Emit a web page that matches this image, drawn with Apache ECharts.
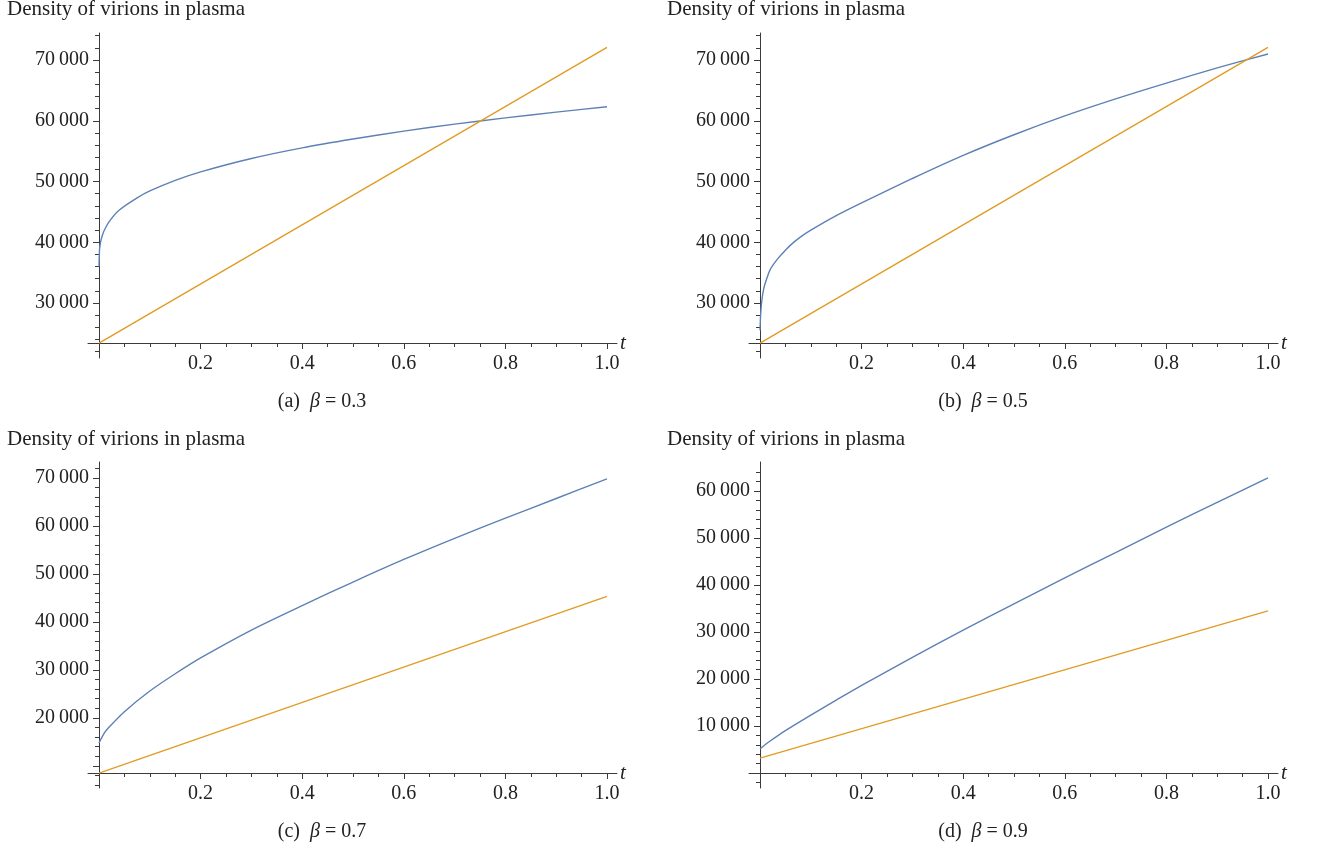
<!DOCTYPE html>
<html><head><meta charset="utf-8">
<script src="https://cdn.jsdelivr.net/npm/echarts@6/dist/echarts.min.js"></script>
<style>html,body{margin:0;padding:0;background:#fff}#c{width:1319px;height:854px}</style>
</head><body><div id="c"></div>
<script>
// ---------- text ----------
const panelTitle = 'Density of virions in plasma';
const panelLetters = ['a', 'b', 'c', 'd'];
const betaValues = ['0.3', '0.5', '0.7', '0.9'];
const xName = 't';

// ---------- data ----------
const tBlueA = [0, 0.001, 0.003, 0.006, 0.01, 0.02, 0.04, 0.075, 0.1, 0.15, 0.2, 0.3, 0.4, 0.5, 0.6, 0.7, 0.8, 0.9, 1.0];
const blueA  = [36000, 38800, 40000, 41000, 41900, 43400, 45300, 47300, 48450, 50200, 51600, 53800, 55550, 57000, 58300, 59450, 60480, 61420, 62300];
const tOrangeA = [0, 1.0];
const orangeA  = [23400, 72100];

const tBlueB = [0, 0.001, 0.003, 0.006, 0.01, 0.02, 0.035, 0.05, 0.065, 0.08, 0.1, 0.15, 0.2, 0.3, 0.4, 0.5, 0.6, 0.7, 0.8, 0.9, 1.0];
const blueB  = [25500, 27800, 30000, 31800, 33200, 35500, 37300, 38700, 39900, 40900, 42000, 44400, 46500, 50500, 54300, 57700, 60800, 63600, 66200, 68700, 71000];
const tOrangeB = [0, 1.0];
const orangeB  = [23400, 72100];

const tBlueC = [0, 0.01, 0.02, 0.05, 0.1, 0.15, 0.2, 0.3, 0.4, 0.5, 0.6, 0.7, 0.8, 0.9, 1.0];
const blueC  = [14800, 16800, 18100, 21300, 25600, 29200, 32500, 38300, 43400, 48300, 53000, 57400, 61600, 65700, 69800];
const tOrangeC = [0, 1.0];
const orangeC  = [8500, 45300];

const tBlueD = [0, 0.01, 0.02, 0.05, 0.1, 0.15, 0.2, 0.3, 0.4, 0.5, 0.6, 0.7, 0.8, 0.9, 1.0];
const blueD  = [5100, 6000, 6800, 9000, 12300, 15500, 18650, 24600, 30400, 36000, 41500, 46900, 52300, 57600, 62800];
const tOrangeD = [0, 1.0];
const orangeD  = [3150, 34500];

// ---------- ticks ----------
const xMajorTicks = [0.2, 0.4, 0.6, 0.8, 1.0];
const xMinorTicks = [0.05, 0.1, 0.15, 0.25, 0.3, 0.35, 0.45, 0.5, 0.55, 0.65, 0.7, 0.75, 0.85, 0.9, 0.95];

const yLabelsAB = [30000, 40000, 50000, 60000, 70000];
const yMajorAB  = [30000, 40000, 50000, 60000, 70000];
const yMinorAB  = [22000, 24000, 26000, 28000, 32000, 34000, 36000, 38000, 42000, 44000, 46000, 48000,
                   52000, 54000, 56000, 58000, 62000, 64000, 66000, 68000, 72000, 74000];
const yLabelsC = [20000, 30000, 40000, 50000, 60000, 70000];
const yMajorC  = [10000, 20000, 30000, 40000, 50000, 60000, 70000];
const yMinorC  = [6000, 8000, 12000, 14000, 16000, 18000, 22000, 24000, 26000, 28000, 32000, 34000, 36000, 38000,
                  42000, 44000, 46000, 48000, 52000, 54000, 56000, 58000, 62000, 64000, 66000, 68000, 72000];
const yLabelsD = [10000, 20000, 30000, 40000, 50000, 60000];
const yMajorD  = [10000, 20000, 30000, 40000, 50000, 60000];
const yMinorD  = [-2000, 2000, 4000, 6000, 8000, 12000, 14000, 16000, 18000, 22000, 24000, 26000, 28000,
                  32000, 34000, 36000, 38000, 42000, 44000, 46000, 48000, 52000, 54000, 56000, 58000, 62000, 64000];

// axis extents (axes extend a little past the drawn region, as in the reference)
const xRange = [-0.0217, 1.0197];
const yRangeAB = [20950, 74450];
const yRangeC = [5400, 73300];
const yRangeD = [-3190, 66170];

// ---------- style ----------
const BLUE = '#5e81b5';
const ORANGE = '#e19c24';
const AXIS = '#3a3a3a';
const TXT = '#222';
const FONT = 'Liberation Serif';

const panels = [
  { left: 88,  top: 33,  width: 529, height: 325, yr: yRangeAB, yl: yLabelsAB, ymaj: yMajorAB, ymin: yMinorAB,
    blue: [tBlueA, blueA], orange: [tOrangeA, orangeA], titleX: 7,   titleY: 11,  capX: 322, capY: 402 },
  { left: 749, top: 33,  width: 529, height: 325, yr: yRangeAB, yl: yLabelsAB, ymaj: yMajorAB, ymin: yMinorAB,
    blue: [tBlueB, blueB], orange: [tOrangeB, orangeB], titleX: 667, titleY: 11,  capX: 983, capY: 402 },
  { left: 88,  top: 462, width: 529, height: 326, yr: yRangeC,  yl: yLabelsC,  ymaj: yMajorC,  ymin: yMinorC,
    blue: [tBlueC, blueC], orange: [tOrangeC, orangeC], titleX: 7,   titleY: 441, capX: 322, capY: 832 },
  { left: 749, top: 462, width: 529, height: 326, yr: yRangeD,  yl: yLabelsD,  ymaj: yMajorD,  ymin: yMinorD,
    blue: [tBlueD, blueD], orange: [tOrangeD, orangeD], titleX: 667, titleY: 441, capX: 983, capY: 832 }
];

function fmtY(v) {
  return String(Math.round(v)).replace(/\B(?=(\d{3})+(?!\d))/g, '\u2009');
}
function pairs(ts, vs) { return ts.map((t, i) => [t, vs[i]]); }

const grid = [], xAxis = [], yAxis = [], series = [], graphic = [];
const X_OFF = -15, Y_OFF = -11;

panels.forEach((p, i) => {
  grid.push({ left: p.left, top: p.top, width: p.width, height: p.height, containLabel: false });
  const lineStyle = { color: AXIS, width: 1 };
  xAxis.push({
    type: 'value', gridIndex: i, min: xRange[0], max: xRange[1], position: 'bottom', offset: X_OFF,
    axisLine: { onZero: false, lineStyle },
    axisTick: { show: true, length: 6, lineStyle, customValues: xMajorTicks },
    axisLabel: { customValues: xMajorTicks, formatter: v => v.toFixed(1), color: TXT,
                 fontFamily: FONT, fontSize: 20, margin: 11 },
    splitLine: { show: false },
    name: xName, nameLocation: 'end', nameGap: 3,
    nameTextStyle: { fontFamily: FONT, fontStyle: 'italic', fontSize: 21, color: TXT }
  });
  xAxis.push({
    type: 'value', gridIndex: i, min: xRange[0], max: xRange[1], position: 'bottom', offset: X_OFF,
    axisLine: { show: false, onZero: false },
    axisTick: { show: true, length: 4, lineStyle, customValues: xMinorTicks },
    axisLabel: { show: false }, splitLine: { show: false }
  });
  yAxis.push({
    type: 'value', gridIndex: i, min: p.yr[0], max: p.yr[1], position: 'left', offset: Y_OFF,
    axisLine: { show: true, onZero: false, lineStyle },
    axisTick: { show: true, length: 6, lineStyle, customValues: p.ymaj },
    axisLabel: { customValues: p.yl, formatter: fmtY, color: TXT, fontFamily: FONT, fontSize: 20, margin: 10 },
    splitLine: { show: false }
  });
  yAxis.push({
    type: 'value', gridIndex: i, min: p.yr[0], max: p.yr[1], position: 'left', offset: Y_OFF,
    axisLine: { show: false, onZero: false },
    axisTick: { show: true, length: 4, lineStyle, customValues: p.ymin },
    axisLabel: { show: false }, splitLine: { show: false }
  });

  series.push({
    type: 'line', xAxisIndex: 2 * i, yAxisIndex: 2 * i, data: pairs(p.blue[0], p.blue[1]),
    showSymbol: false, smooth: 0.25, lineStyle: { color: BLUE, width: 1.4 },
    itemStyle: { color: BLUE }, silent: true, z: 3
  });
  series.push({
    type: 'line', xAxisIndex: 2 * i, yAxisIndex: 2 * i, data: pairs(p.orange[0], p.orange[1]),
    showSymbol: false, lineStyle: { color: ORANGE, width: 1.4 },
    itemStyle: { color: ORANGE }, silent: true, z: 4
  });

  graphic.push({
    type: 'text', left: p.titleX, top: p.titleY - 12,
    style: { text: panelTitle, fontFamily: FONT, fontSize: 21, fill: TXT }
  });
  graphic.push({
    type: 'text', x: p.capX, y: p.capY,
    style: {
      text: '{n|(' + panelLetters[i] + ')  }{i|β}{n| = ' + betaValues[i] + '}',
      align: 'center', verticalAlign: 'middle', fill: TXT,
      rich: {
        n: { fontFamily: FONT, fontSize: 20, fill: TXT },
        i: { fontFamily: FONT, fontSize: 20, fontStyle: 'italic', fill: TXT }
      }
    }
  });
});

const chart = echarts.init(document.getElementById('c'), null, { renderer: 'canvas' });
chart.setOption({
  animation: false,
  backgroundColor: '#fff',
  grid, xAxis, yAxis, series, graphic
});
</script>
</body></html>
